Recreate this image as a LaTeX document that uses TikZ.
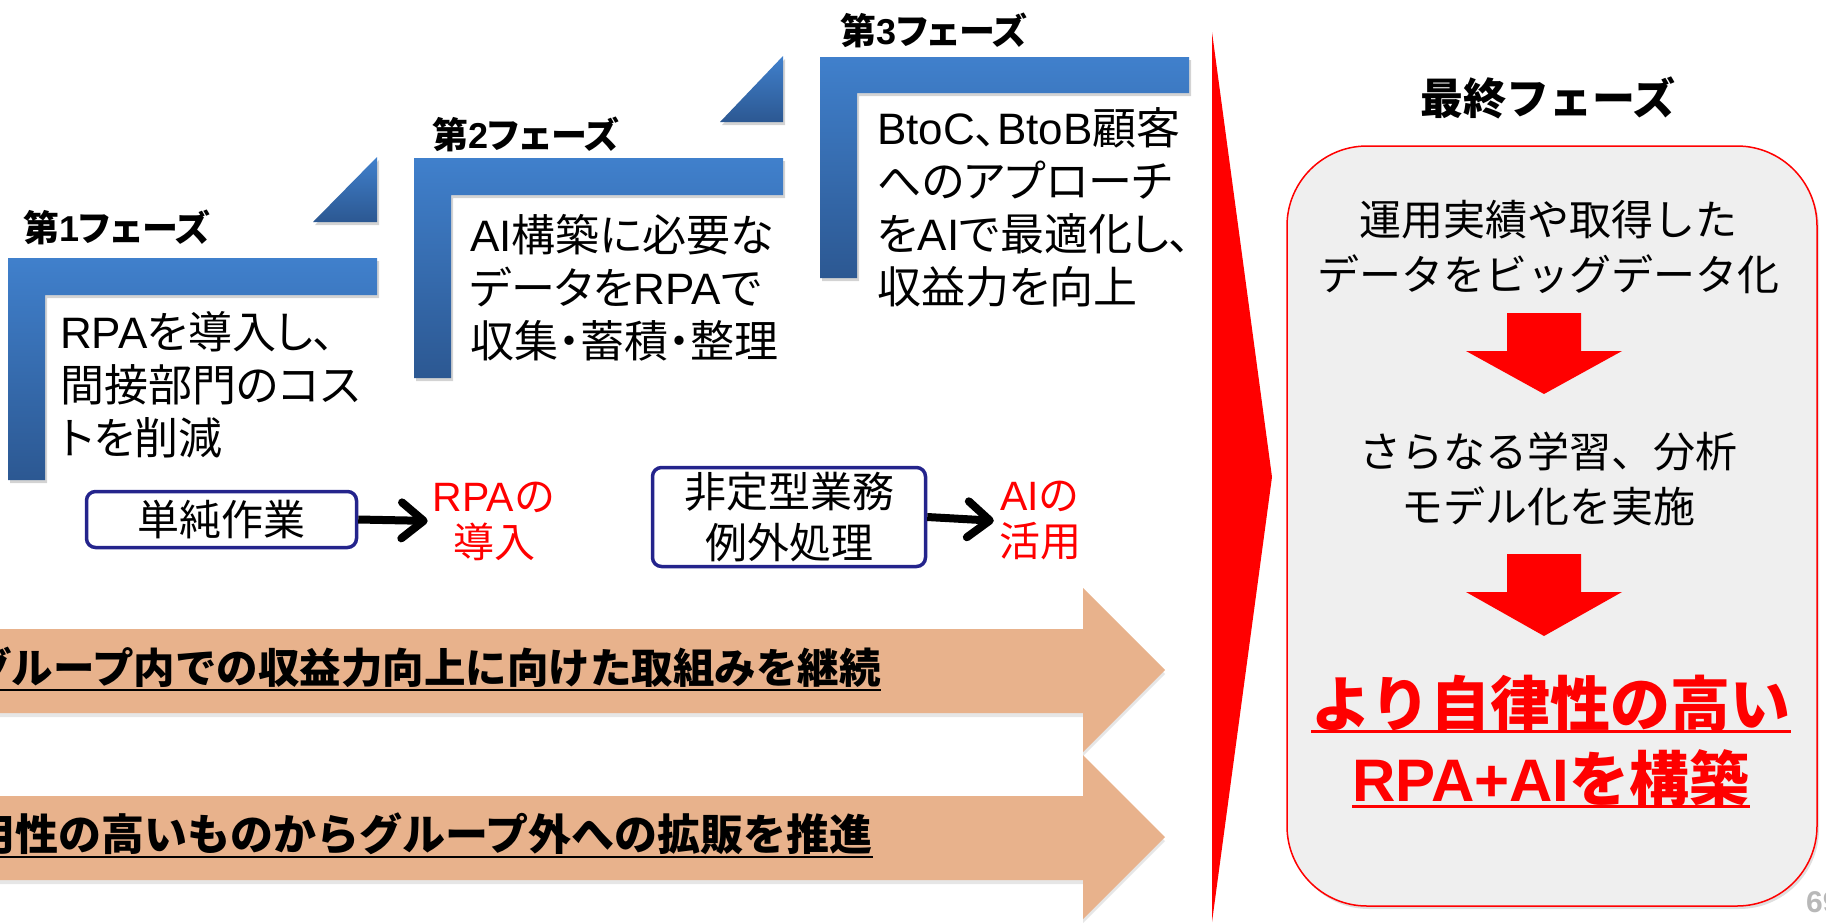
\documentclass[tikz,border=0pt]{standalone}
\usepackage{fontspec}
\setmainfont{Noto Sans CJK JP}
\newfontfamily\jpp{Noto Sans CJK JP}[RawFeature=+palt]
\newfontfamily\lat{Liberation Sans}
\usetikzlibrary{arrows.meta,shadows}
\definecolor{blueA}{RGB}{64,128,204}
\definecolor{blueB}{RGB}{44,88,146}
\definecolor{tanA}{RGB}{232,178,140}
\definecolor{navyA}{RGB}{36,36,140}
\definecolor{boxgray}{RGB}{239,239,239}
\newcommand\la[1]{{\lat #1}}
\tikzset{
  lshape/.style={top color=blueA, bottom color=blueB,
    drop shadow={shadow xshift=2pt, shadow yshift=-3pt, opacity=0.35}},
  tanarrow/.style={fill=tanA,
    drop shadow={shadow xshift=0pt, shadow yshift=-4pt, opacity=0.2}},
  ptext/.style={anchor=north west, align=left, inner sep=0pt,
    font=\jpp\fontsize{44}{53}\selectfont},
  plabel/.style={anchor=west, inner sep=0pt,
    font=\jpp\bfseries\fontsize{36}{40}\selectfont},
  bbox/.style={draw=navyA, line width=3.5pt, rounded corners=9pt, fill=white,
    inner sep=0pt, align=center, font=\fontsize{42}{51}\selectfont},
  redtxt/.style={text=red, inner sep=0pt, align=center,
    font=\fontsize{41}{46}\selectfont},
  rtext/.style={anchor=north, inner sep=0pt, align=center,
    font=\fontsize{42}{55}\selectfont},
  fin/.style={anchor=base, inner sep=0pt, text=red,
    font=\bfseries\fontsize{60}{70}\selectfont},
  tant/.style={anchor=base east, inner sep=0pt,
    font=\bfseries\fontsize{41.5}{48}\selectfont},
  barb/.style={line width=8pt, shorten >=5pt,
    -{Straight Barb[length=22pt, width=36pt, round]}},
}
\begin{document}
\begin{tikzpicture}[x=1pt,y=-1pt]
\useasboundingbox (0,0) rectangle (1826,922);
\clip (0,0) rectangle (1826,922);

% ---- phase shapes ----
\path[lshape] (8,258) -- (377,258) -- (377,295) -- (45,295) -- (45,480) -- (8,480) -- cycle;
\path[lshape] (313,222) -- (377,222) -- (377,157) -- cycle;
\path[lshape] (414,158) -- (783,158) -- (783,195) -- (451,195) -- (451,378) -- (414,378) -- cycle;
\path[lshape] (720,122) -- (783,122) -- (783,56) -- cycle;
\path[lshape] (820,57) -- (1189,57) -- (1189,93) -- (857,93) -- (857,278) -- (820,278) -- cycle;

\node[plabel] (l1) at (23,227) {第\la{1}フェーズ};
\node[plabel] (l2) at (432,134) {第\la{2}フェーズ};
\node[plabel] (l3) at (840,30) {第\la{3}フェーズ};

\node[ptext] (p1) at (60,311) {\la{RPA}を導入し、\\間接部門のコス\\トを削減};
\node[ptext] (p2) at (470,214) {\la{AI}構築に必要な\\データを\la{RPA}で\\収集・蓄積・整理};
\node[ptext] (p3) at (877,107) {\la{BtoC}、\la{BtoB}顧客\\へのアプローチ\\を\la{AI}で最適化し、\\収益力を向上};

% ---- boxes and arrows ----
\node[bbox, minimum width=270pt, minimum height=56pt] (b1) at (221.5,519.5) {単純作業};
\node[redtxt] (rpa) at (494,521) {\la{RPA}の\\導入};
\draw[barb] (b1.east) -- (rpa.west);

\node[bbox, minimum width=273pt, minimum height=99pt] (b2) at (789,517) {非定型業務\\例外処理};
\node[redtxt] (ai) at (1040,521) {\la{AI}の\\活用};
\draw[barb] (b2.east) -- (ai.west);

% ---- tan arrows ----
\path[tanarrow] (-10,796) -- (1083,796) -- (1083,755) -- (1165,837) -- (1083,919) -- (1083,880) -- (-10,880) -- cycle;
\path[tanarrow] (-10,629) -- (1083,629) -- (1083,588) -- (1165,670) -- (1083,752) -- (1083,713) -- (-10,713) -- cycle;

\node[tant] (t1) at (881,683) {グループ内での収益力向上に向けた取組みを継続};
\draw[line width=2pt] ([yshift=-7pt]t1.base west) -- ([yshift=-7pt]t1.base east);
\node[tant, font=\bfseries\fontsize{43}{48}\selectfont] (t2) at (873,850) {汎用性の高いものからグループ外への拡販を推進};
\draw[line width=2pt] ([yshift=-7pt]t2.base west) -- ([yshift=-7pt]t2.base east);

% ---- big red chevron ----
\fill[red] (1212,32) -- (1272,477) -- (1212,922) -- cycle;

% ---- final phase ----
\node[inner sep=0pt, font=\bfseries\fontsize{43}{50}\selectfont] (fh) at (1548,98) {最終フェーズ};
\draw[red, line width=1.5pt, fill=boxgray, rounded corners=80pt,
  drop shadow={shadow xshift=2pt, shadow yshift=-3pt, opacity=0.25}]
  (1287,146) rectangle (1817,906);

\node[rtext] (r1) at (1548,200) {運用実績や取得した\\データをビッグデータ化};
\fill[red] (1507,313) -- (1581,313) -- (1581,351) -- (1622,351) -- (1544,394) -- (1466,351) -- (1507,351) -- cycle;
\node[rtext] (r2) at (1548,432) {さらなる学習、分析\\モデル化を実施};
\fill[red] (1507,554) -- (1581,554) -- (1581,592) -- (1622,592) -- (1544,636) -- (1466,592) -- (1507,592) -- cycle;

\node[fin] (f1) at (1551,726) {より自律性の高い};
\draw[red, line width=3pt] ([yshift=-5pt]f1.base west) -- ([yshift=-5pt]f1.base east);
\node[fin] (f2) at (1551,801) {{\lat\bfseries RPA+AI}を構築};
\draw[red, line width=3pt] ([yshift=-5pt]f2.base west) -- ([yshift=-5pt]f2.base east);

\node[anchor=west, inner sep=0pt, text=black!28, font=\lat\bfseries\fontsize{30}{30}\selectfont] (pg) at (1806,902) {69};
\end{tikzpicture}
\end{document}
